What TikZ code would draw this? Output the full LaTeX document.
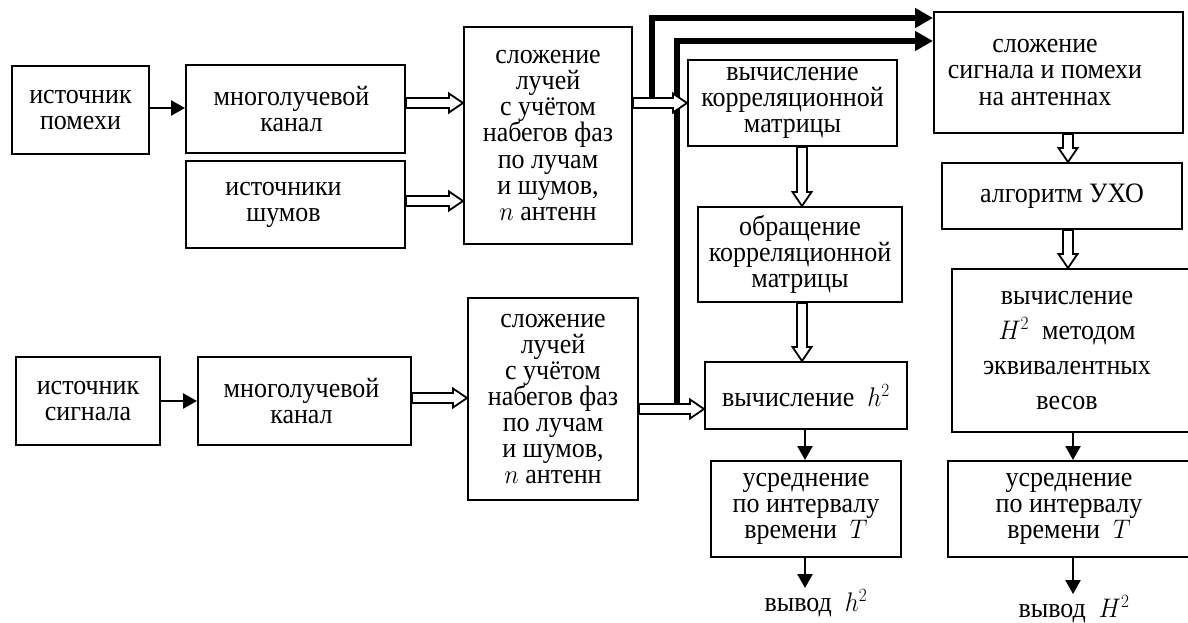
\documentclass[tikz,border=0pt]{standalone}
\usepackage{graphicx}
\usepackage{fontspec}
\setmainfont{Liberation Serif}
\usetikzlibrary{arrows.meta,calc}
% centred lines, exact baseline spacing, stretched vertically a little like the reference
\newcommand\tx[2][0pt]{\scalebox{1}[1.08]{\vbox{\baselineskip=24.2pt\lineskiplimit=-50pt\lineskip=0pt
  \halign{\hfil##\hfil\cr #2\crcr}}}\kern#1}
\tikzset{
  box/.style={draw, line width=2pt, inner sep=0pt,
    font=\fontsize{26}{24.2}\selectfont},
  thinarrow/.style={line width=2.5pt, -{Triangle[length=14pt,width=15pt]}},
  heavyarrow/.style={line width=6.5pt, line join=miter, -{Triangle[length=18pt,width=19pt]}},
  hol/.style={draw, line width=1.8pt, fill=white, line join=miter},
  hollowh/.style={to path={let \p1=(\tikztostart), \p2=(\tikztotarget) in
    (\x1,\y1+5pt) -- (\x2-14pt,\y1+5pt) -- (\x2-14pt,\y1+9.5pt) -- (\x2,\y1)
    -- (\x2-14pt,\y1-9.5pt) -- (\x2-14pt,\y1-5pt) -- (\x1,\y1-5pt) -- cycle}},
  hollowv/.style={to path={let \p1=(\tikztostart), \p2=(\tikztotarget) in
    (\x1-5pt,\y1) -- (\x1-5pt,\y2+14pt) -- (\x1-9.5pt,\y2+14pt) -- (\x1,\y2)
    -- (\x1+9.5pt,\y2+14pt) -- (\x1+5pt,\y2+14pt) -- (\x1+5pt,\y1) -- cycle}},
  lbl/.style={font=\fontsize{26}{24.2}\selectfont, inner sep=1pt, anchor=base}
}
\begin{document}
\begin{tikzpicture}[x=1pt,y=-1pt]
\useasboundingbox (0,0) rectangle (1188,623);
\clip (0,0) rectangle (1188,623);
\fill[white] (0,0) rectangle (1188,623);

% upper chain
\node[box, minimum width=137pt, minimum height=88pt] (pom) at (80.5,110) {\tx{источник\cr помехи}};
\node[box, minimum width=219pt, minimum height=88pt] (mk1) at (295.5,109) {\tx[8pt]{многолучевой\cr канал}};
\node[box, minimum width=219pt, minimum height=87pt] (shum) at (295.5,204.5) {\tx[24pt]{источники\cr шумов}};
\node[box, minimum width=168pt, minimum height=217pt] (sl1) at (548,135.5)
  {\tx{сложение\cr лучей\cr с учётом\cr набегов фаз\cr по лучам\cr и шумов,\cr $n$ антенн}};

% lower chain
\node[box, minimum width=144pt, minimum height=88pt] (sig) at (88,401) {\tx{источник\cr сигнала}};
\node[box, minimum width=213pt, minimum height=88pt] (mk2) at (304.5,401) {\tx[6pt]{многолучевой\cr канал}};
\node[box, minimum width=170pt, minimum height=202pt] (sl2) at (553,399)
  {\tx{сложение\cr лучей\cr с учётом\cr набегов фаз\cr по лучам\cr и шумов,\cr $n$ антенн}};

% middle column
\node[box, minimum width=209pt, minimum height=86pt] (corr) at (792.5,103) {\tx{вычисление\cr корреляционной\cr матрицы}};
\node[box, minimum width=204pt, minimum height=95pt] (obr) at (800,254.5) {\tx{обращение\cr корреляционной\cr матрицы}};
\node[box, minimum width=202pt, minimum height=67pt] (h2) at (806,395.5) {\tx{вычисление \ $h^2$}};
\node[box, minimum width=190pt, minimum height=96pt] (avg1) at (806,509) {\tx{усреднение\cr по интервалу\cr времени \ $T$}};
\node[lbl] (out1) at (816,611) {\scalebox{1}[1.08]{вывод \ $h^2$}};

% right column
\node[box, minimum width=249pt, minimum height=121pt] (sp) at (1058.5,72.5) {\tx[27pt]{сложение\cr сигнала и помехи\cr на антеннах}};
\node[box, minimum width=240pt, minimum height=66pt] (uho) at (1062,196) {\tx{алгоритм УХО}};
\node[box, minimum width=238pt, minimum height=163pt] (H2) at (1071,350.5)
  {\tx[8pt]{вычисление\cr\noalign{\vskip8.5pt}$H^2$ \ методом\cr\noalign{\vskip8.5pt}эквивалентных\cr\noalign{\vskip8.5pt}весов}};
\node[box, minimum width=242pt, minimum height=96pt] (avg2) at (1069,509) {\tx{усреднение\cr по интервалу\cr времени \ $T$}};
\node[lbl] (out2) at (1074,617) {\scalebox{1}[1.08]{вывод \ $H^2$}};

% thin arrows
\draw[thinarrow] (pom.east |- 0,108) -- (mk1.west |- 0,108);
\draw[thinarrow] (sig) -- (mk2);
\draw[thinarrow] (h2.south -| 805,0) -- (avg1.north -| 805,0);
\draw[thinarrow] (avg1.south -| 805,0) -- (out1.north -| 805,0);
\draw[thinarrow] (H2.south -| 1073,0) -- (avg2.north -| 1073,0);
\draw[thinarrow] (avg2.south -| 1073,0) -- (out2.north -| 1073,0);

% heavy lines
\coordinate (j1) at (652,97);
\coordinate (j2) at (677,404);
\coordinate (t1) at ([yshift=-7pt]sp.north west);
\coordinate (t2) at ([yshift=-30pt]sp.north west);
\draw[heavyarrow] (j1) |- (t1);
\draw[heavyarrow] (j2) |- (t2);

% hollow arrows
\coordinate (mk1out) at ([yshift=6pt]mk1.east);
\coordinate (shumout) at ([yshift=3.5pt]shum.east);
\coordinate (mk2out) at ([yshift=3pt]mk2.east);
\coordinate (h2in) at ([yshift=-13.5pt]h2.west);
\coordinate (cx) at (802,0);
\coordinate (rx) at (1068,0);
\path[hol] (mk1out) to[hollowh] (sl1.west |- mk1out);
\path[hol] (shumout) to[hollowh] (sl1.west |- shumout);
\path[hol] (sl1.east |- corr.west) to[hollowh] (corr.west);
\path[hol] (mk2out) to[hollowh] (sl2.west |- mk2out);
\path[hol] (sl2.east |- h2in) to[hollowh] (h2in);
\path[hol] (corr.south -| cx) to[hollowv] (obr.north -| cx);
\path[hol] (obr.south -| cx) to[hollowv] (h2.north -| cx);
\path[hol] (sp.south -| rx) to[hollowv] (uho.north -| rx);
\path[hol] (uho.south -| rx) to[hollowv] (H2.north -| rx);
\end{tikzpicture}
\end{document}
